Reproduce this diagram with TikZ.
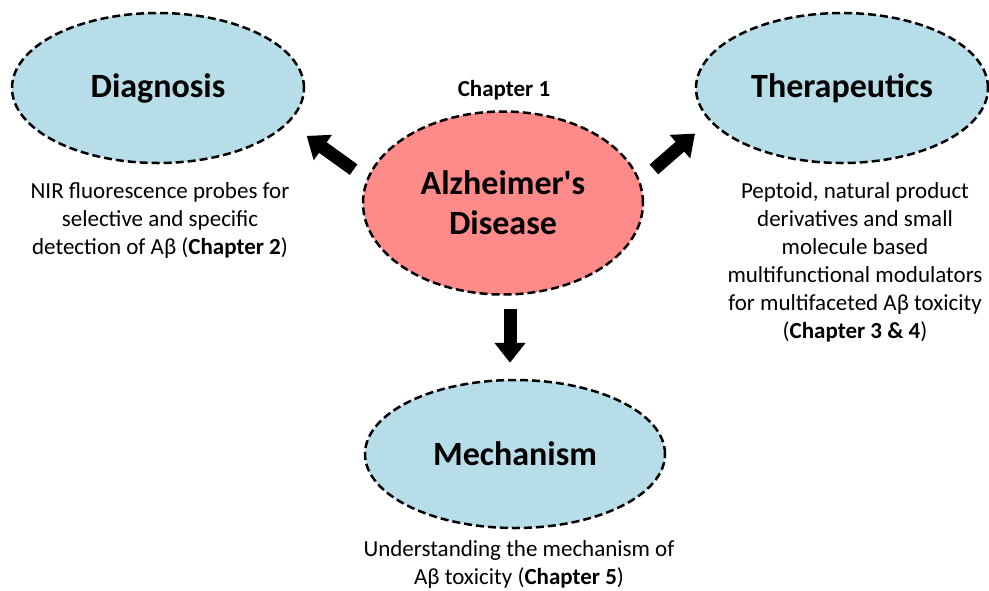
\documentclass[tikz,border=0pt]{standalone}
\usepackage{fontspec}
\setmainfont{Carlito}[Ligatures = TeXOff]
\usetikzlibrary{shapes.geometric, arrows.meta}

\definecolor{topicblue}{RGB}{183,222,232}
\definecolor{diseasered}{RGB}{255,138,138}

\begin{document}
\begin{tikzpicture}[x = 1pt, y = -1pt,
    bubble/.style = {ellipse, draw, line width = 2.5pt, dash pattern = on 8pt off 4pt, inner sep = 0, font = \fontsize{34}{40}\selectfont\bfseries},
    topic/.style = {bubble, fill = topicblue, minimum width = 292pt, minimum height = 150pt},
    note/.style = {align = center, font = \fontsize{23}{28}\selectfont},
    fat/.style = {line width = 13pt, -{Triangle[width = 30pt, length = 20pt]}}]
    \useasboundingbox (0, 0) rectangle (989, 590);

    \node [bubble, fill = diseasered, minimum width = 280pt, minimum height = 183pt, align = center] (alz) at (503, 203) {Alzheimer's\\Disease};
    \node [topic] (diag) at (158, 88) {Diagnosis};
    \node [topic] (ther) at (842, 88) {Therapeutics};
    \node [topic, minimum width = 300pt, minimum height = 148pt] (mech) at (515, 454) {Mechanism};

    \node [font = \fontsize{23}{28}\selectfont\bfseries] (chap) at (504, 90) {Chapter 1};

    \node [note] (diagtext) at (160, 220) {NIR fluorescence probes for\\selective and specific\\detection of Aβ (\textbf{Chapter 2})};
    \node [note] (thertext) at (855, 262) {Peptoid, natural product\\derivatives and small\\molecule based\\multifunctional modulators\\for multifaceted Aβ toxicity\\(\textbf{Chapter 3 \& 4})};
    \node [note] (mechtext) at (519, 564) {Understanding the mechanism of\\Aβ toxicity (\textbf{Chapter 5})};

    \draw [fat, shorten <= 16pt, shorten >= 22pt] (alz.170) -- (diag.-15.5);
    \draw [fat, shorten <= 18pt, shorten >= 19pt] (alz.9) -- (ther.194.6);
    \draw [fat, shorten <= 13pt, shorten >= 16pt] ([xshift = 7pt]alz.south) -- ([xshift = 7pt]alz.south |- mech.north);
\end{tikzpicture}
\end{document}
